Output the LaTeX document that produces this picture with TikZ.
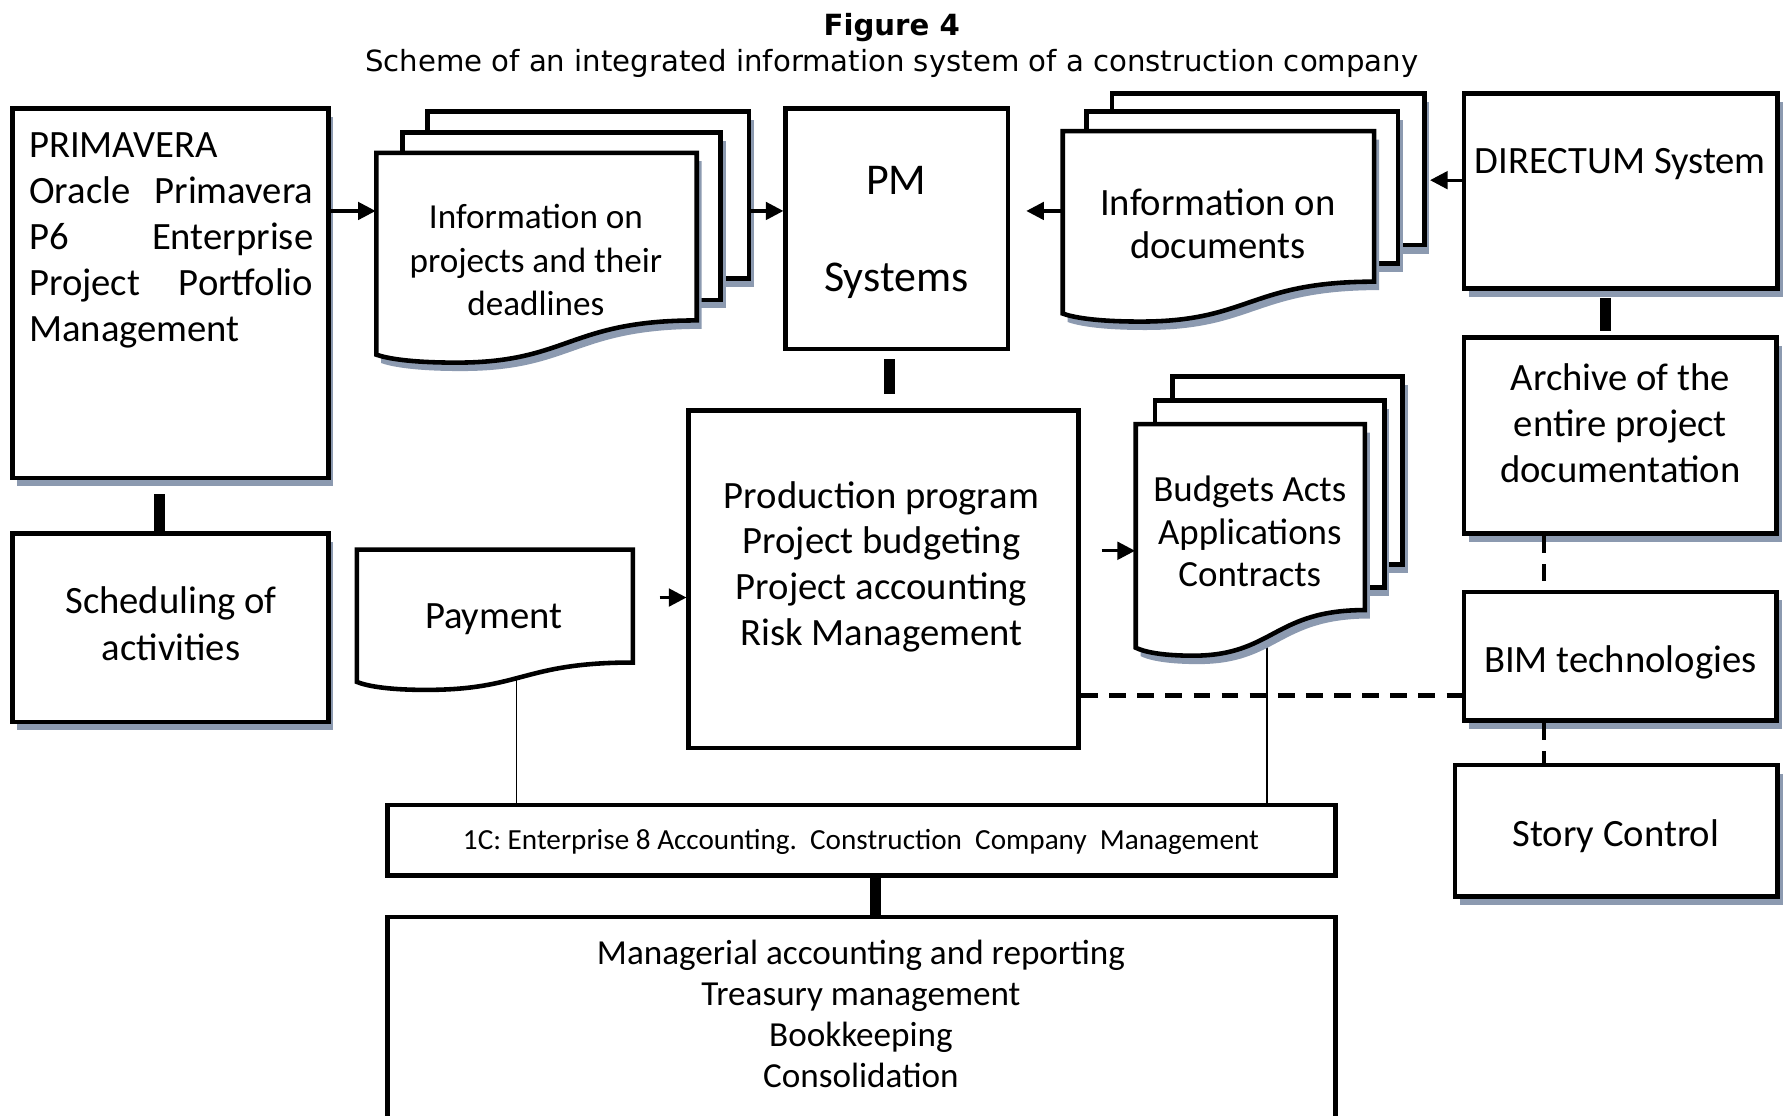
\documentclass[tikz,border=0pt]{standalone}
\usepackage{fontspec}
\setmainfont{Carlito}
\newfontfamily\verdanafont{DejaVu Sans}
\usetikzlibrary{arrows.meta,shadows,fit,calc}
\definecolor{shadowgray}{RGB}{140,154,176}

\newcommand{\docsheet}[6][docshape]{%
  \draw[#1] (#2,#3) -- (#4,#3) -- (#4,#6)
    .. controls ({#4-0.4*(#4-#2)},#6) and ({#2+0.6*(#4-#2)},{#5+7}) .. ({#2+0.25*(#4-#2)},{#5+7})
    .. controls ({#2+0.1*(#4-#2)},{#5+7}) and ({#2+0.03*(#4-#2)},{#5+3}) .. (#2,#5) -- cycle;}

\begin{document}
\begin{tikzpicture}[x=0.11403mm, y=-0.11403mm]
	\tikzstyle{every node}=[font=\fontsize{11}{13}\selectfont]
	\tikzstyle{box}=[draw, line width=1.3pt, fill=white, inner sep=0pt]
	\tikzstyle{shadowbox}=[box, drop shadow={shadow xshift=1.4pt, shadow yshift=-2.4pt, fill=shadowgray, opacity=1}]
	\tikzstyle{docshape}=[line width=1.3pt, fill=white, drop shadow={shadow xshift=1.4pt, shadow yshift=-2.4pt, fill=shadowgray, opacity=1}]
	\tikzstyle{plaindoc}=[line width=1.3pt, fill=white]
	\tikzstyle{doctext}=[inner sep=0pt, align=center]
	\tikzstyle{arr}=[line width=0.9pt, -{Triangle[length=5pt, width=5pt]}]
	\tikzstyle{bar}=[line width=3.2pt]
	\tikzstyle{thinlink}=[line width=0.5pt]
	\tikzstyle{dashlink}=[line width=1.3pt, dash pattern=on 4.8pt off 3.2pt]

	\clip (0,0) rectangle (1568,978);

	\node[font=\verdanafont\bfseries\fontsize{8.3}{10}\selectfont] (fig) at (782,24) {Figure 4};
	\node[font=\verdanafont\fontsize{8.3}{10}\selectfont] (caption) at (782,56) {Scheme of an integrated information system of a construction company};

	\node[shadowbox, fit={(11,95) (288,419)}] (prim) {};
	\node[anchor=north west, inner sep=0pt, align=left, font=\fontsize{11}{13.1}\selectfont] (primtext) at (25,116)
		{PRIMAVERA\\ \hbox to 28.4mm{Oracle\hfill Primavera}\\ \hbox to 28.4mm{P6\hfill Enterprise}\\ \hbox to 28.4mm{Project\hfill Portfolio}\\ Management};
	\node[shadowbox, fit={(11,468) (288,633)}] (sched) {};
	\node[align=center, font=\fontsize{11}{13.6}\selectfont] (schedtext) at (150,547) {Scheduling of\\activities};
	\node[box, fit={(689,95) (884,306)}] (pm) {};
	\node[align=center, font=\fontsize{12.5}{27.5}\selectfont] (pmtext) at (786,204) {PM\\Systems};
	\node[shadowbox, fit={(1284,82) (1559,253)}] (dir) {};
	\node (dirtext) at (1421,144) {DIRECTUM System};
	\node[shadowbox, fit={(1284,296) (1558,468)}] (arch) {};
	\node[align=center, font=\fontsize{11}{13.1}\selectfont] (archtext) at (1421,371) {Archive of the\\entire project\\documentation};
	\node[shadowbox, fit={(1284,519) (1558,632)}] (bim) {};
	\node (bimtext) at (1421,581) {BIM technologies};
	\node[shadowbox, fit={(1276,671) (1559,786)}] (story) {};
	\node (storytext) at (1417,733) {Story Control};
	\node[box, fit={(604,360) (946,656)}] (prod) {};
	\node[align=center, font=\fontsize{11}{13}\selectfont] (prodtext) at (773,497) {Production program\\Project budgeting\\Project accounting\\Risk Management};
	\node[box, fit={(340,706) (1171,768)}] (onec) {};
	\node[font=\fontsize{8.3}{10}\selectfont] (onectext) at (755,738) {1C: Enterprise 8 Accounting.\ \ Construction\ \ Company\ \ Management};
	\node[box, fit={(340,804) (1171,1010)}] (mgmt) {};
	\node[align=center, font=\fontsize{10}{11.7}\selectfont] (mgmttext) at (755,889) {Managerial accounting and reporting\\Treasury management\\Bookkeeping\\Consolidation};

	\coordinate (paytail) at (453,570);
	\coordinate (budtail) at (1111,540);
	\draw[thinlink] (paytail) -- (onec.north -| paytail);
	\draw[thinlink] (budtail) -- (onec.north -| budtail);

	\node[shadowbox, fit={(375,98) (657,244)}] (ip3) {};
	\node[shadowbox, fit={(353,116) (632,263)}] (ip2) {};
	\docsheet{330}{134}{611}{311}{281}
	\node[fit={(330,134) (611,318)}, inner sep=0pt] (ip) {};
	\node[doctext, font=\fontsize{10}{12.3}\selectfont] (iptext) at (470,228) {Information on\\projects and their\\deadlines};

	\node[shadowbox, fit={(975,82) (1249,215)}] (id3) {};
	\node[shadowbox, fit={(953,98) (1226,231)}] (id2) {};
	\docsheet{932}{115}{1205}{275}{247}
	\node[fit={(932,115) (1205,279)}, inner sep=0pt] (id) {};
	\node[doctext, font=\fontsize{11}{12.3}\selectfont] (idtext) at (1068,196) {Information on\\documents};

	\node[shadowbox, fit={(1028,330) (1230,495)}] (bud3) {};
	\node[shadowbox, fit={(1013,351) (1214,515)}] (bud2) {};
	\docsheet{996}{372}{1197}{568}{535}
	\node[fit={(996,372) (1197,560)}, inner sep=0pt] (bud) {};
	\node[doctext, font=\fontsize{10.5}{12}\selectfont] (budtext) at (1096,466) {Budgets Acts\\Applications\\Contracts};

	\docsheet[plaindoc]{313}{482}{555}{598}{581}
	\node[fit={(313,482) (555,600)}, inner sep=0pt] (pay) {};
	\node (paytext) at (433,543) {Payment};

	\coordinate (rowA) at (0,185);
	\coordinate (rowB) at (0,158);
	\coordinate (rowC) at (0,524);
	\coordinate (rowD) at (0,483);
	\coordinate (rowE) at (0,610);
	\coordinate (colA) at (140,0);
	\coordinate (colB) at (780,0);
	\coordinate (colC) at (1408,0);
	\coordinate (colD) at (768,0);
	\coordinate (colE) at (1354,0);

	\draw[arr] (prim.east |- rowA) -- (ip.west |- rowA);
	\draw[arr] (ip3.east |- rowA) -- (pm.west |- rowA);
	\draw[arr, shorten >=1.6mm] (id.west |- rowA) -- (pm.east |- rowA);
	\draw[arr, shorten >=0.35mm] (dir.west |- rowB) -- (id3.east |- rowB);
	\draw[arr, shorten <=2.6mm] (pay.east |- rowC) -- (prod.west |- rowC);
	\draw[arr, shorten <=2.05mm] (prod.east |- rowD) -- (bud.west |- rowD);

	\draw[bar, shorten <=1.4mm] (prim.south -| colA) -- (sched.north -| colA);
	\draw[bar, shorten <=0.8mm, shorten >=1.4mm] (pm.south -| colB) -- (prod.north -| colB);
	\draw[bar, shorten <=0.7mm, shorten >=0.45mm] (dir.south -| colC) -- (arch.north -| colC);
	\draw[bar] (onec.south -| colD) -- (mgmt.north -| colD);

	\draw[dashlink] (arch.south -| colE) -- (bim.north -| colE);
	\draw[dashlink] (bim.south -| colE) -- (story.north -| colE);
	\draw[dashlink] (prod.east |- rowE) -- (bim.west |- rowE);
\end{tikzpicture}
\end{document}
